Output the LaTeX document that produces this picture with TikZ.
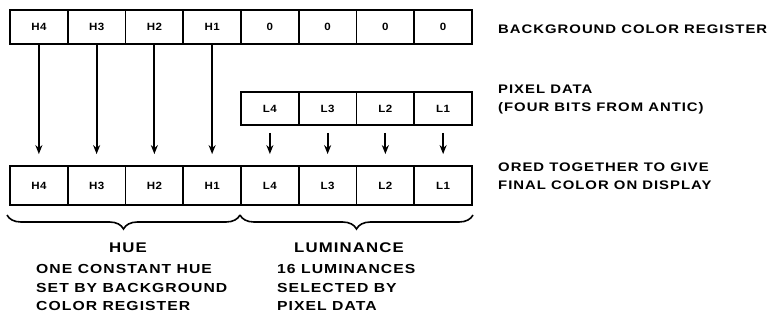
\documentclass[tikz,border=0pt]{standalone}
\usepackage{fontspec}
\setmainfont{Liberation Sans}[BoldFont={* Bold}]
\newfontfamily\widefont{Liberation Sans Bold}[FakeStretch=1.2,LetterSpace=8]
\newfontfamily\cellfont{Liberation Sans Bold}[FakeStretch=1.1,LetterSpace=4]
\usetikzlibrary{arrows.meta,decorations.pathreplacing}
\begin{document}
\begin{tikzpicture}[x=1pt,y=-1pt,
  cell/.style={draw,line width=1.8pt,minimum width=57.75pt,inner sep=0pt,font=\cellfont\fontsize{10.5}{11}\selectfont},
  toprow/.style={cell,minimum height=34pt},
  pixrow/.style={cell,minimum height=33pt},
  botrow/.style={cell,minimum height=39pt},
  conn/.style={line width=2.2pt,-{Stealth[length=9pt,width=7pt]}},
  lbl/.style={anchor=west,align=left,inner sep=0pt,font=\widefont\fontsize{12.4}{17.5}\selectfont},
  desc/.style={anchor=north west,align=left,inner sep=0pt,font=\widefont\fontsize{13.1}{18.5}\selectfont},
  head/.style={font=\widefont\fontsize{14}{16}\selectfont},
  brc/.style={decorate,decoration={brace,mirror,amplitude=14pt,aspect=0.5},line width=1.6pt}]
\useasboundingbox (0,0) rectangle (774,326);
% top register
\foreach \t [count=\i] in {H4,H3,H2,H1,0,0,0,0}
  \node[toprow] (t\i) at ({10+57.75*(\i-0.5)},27) {\t};
% pixel data
\foreach \t [count=\i from 5] in {L4,L3,L2,L1}
  \node[pixrow] (p\i) at ({10+57.75*(\i-0.5)},108.5) {\t};
% bottom register
\foreach \t [count=\i] in {H4,H3,H2,H1,L4,L3,L2,L1}
  \node[botrow] (b\i) at ({10+57.75*(\i-0.5)},185.5) {\t};
% arrows
\foreach \i in {1,...,4}
  \draw[conn,shorten >=11pt] (t\i.south) -- (b\i.north);
\foreach \i in {5,...,8}
  \draw[conn,shorten <=7pt,shorten >=11pt] (p\i.south) -- (b\i.north);
% braces
\coordinate (bl) at (7,215);
\coordinate (bm) at (240,215);
\coordinate (br) at (473,215);
\draw[brc] (bl) -- (bm);
\draw[brc] (bm) -- (br);
% labels
\node[head] (hue) at (128,248) {HUE};
\node[head] (lum) at (349,248) {LUMINANCE};
\node[desc] (hd) at (36,264.5) {ONE CONSTANT HUE\\SET BY BACKGROUND\\COLOR REGISTER};
\node[desc] (ld) at (277,264.5) {16 LUMINANCES\\SELECTED BY\\PIXEL DATA};
\node[lbl] (l1) at (498,29.5) {BACKGROUND COLOR REGISTER};
\node[lbl,anchor=north west] (l2) at (498,85) {PIXEL DATA\\(FOUR BITS FROM ANTIC)};
\node[lbl,anchor=north west] (l3) at (498,163) {ORED TOGETHER TO GIVE\\FINAL COLOR ON DISPLAY};
\end{tikzpicture}
\end{document}
